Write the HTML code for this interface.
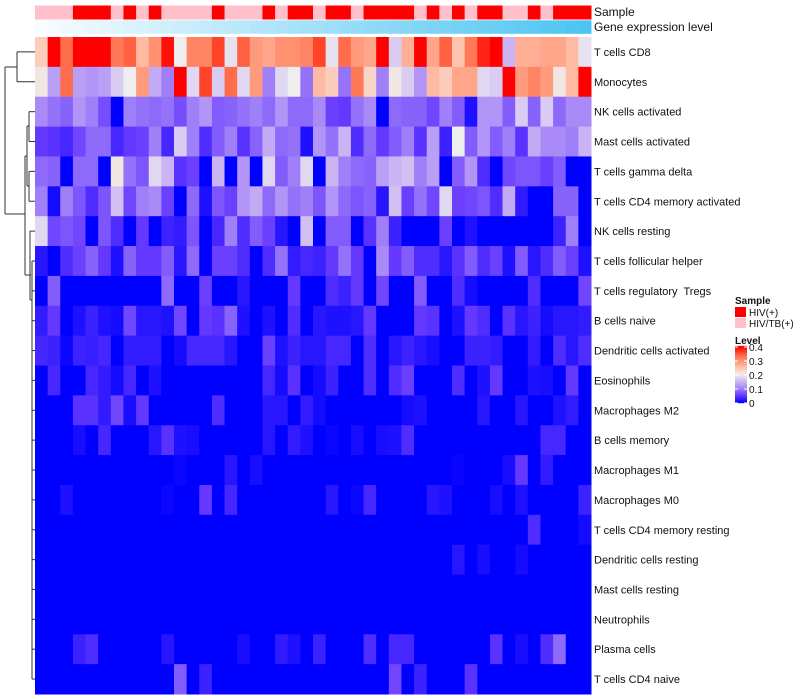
<!DOCTYPE html>
<html><head><meta charset="utf-8"><style>
body{margin:0;background:#fff;}
svg{display:block;font-family:"Liberation Sans",sans-serif;}
#labels text{white-space:pre;}
</style></head><body>
<svg id="chart" width="800" height="700">
<g id="dendro" stroke="#333" stroke-width="1" fill="none"></g>
<g id="cells"></g>
<g id="annot"></g>
<g id="labels" font-size="11" fill="#111" xml:space="preserve"></g>
<text x="594" y="16" font-size="12" fill="#111">Sample</text>
<text x="594" y="31" font-size="12" fill="#111">Gene expression level</text>
<g>
<text x="735" y="304" font-size="10" font-weight="bold" fill="#111">Sample</text>
<rect x="735" y="307" width="11" height="10" fill="#FF0000"/>
<text x="749" y="316" font-size="10" fill="#111">HIV(+)</text>
<rect x="735" y="318" width="11" height="10" fill="#FFC0CB"/>
<text x="749" y="327" font-size="10" fill="#111">HIV/TB(+)</text>
<text x="735" y="344" font-size="10" font-weight="bold" fill="#111">Level</text>
<g id="cbar"></g>
</g>
</svg>
<script>
const rowNames=["T cells CD8","Monocytes","NK cells activated","Mast cells activated","T cells gamma delta","T cells CD4 memory activated","NK cells resting","T cells follicular helper","T cells regulatory  Tregs","B cells naive","Dendritic cells activated","Eosinophils","Macrophages M2","B cells memory","Macrophages M1","Macrophages M0","T cells CD4 memory resting","Dendritic cells resting","Mast cells resting","Neutrophils","Plasma cells","T cells CD4 naive"];
const sampleGroup=[1,1,1,0,0,0,1,0,1,0,1,1,1,1,0,1,1,1,0,1,0,0,1,0,0,1,0,0,0,0,1,0,1,0,1,0,0,1,1,0,1,0,0,0];
const v0=[.24,.4,.33,.4,.4,.4,.32,.34,.26,.3,.39,.2,.31,.31,.36,.19,.34,.29,.28,.3,.3,.31,.36,.19,.33,.29,.28,.4,.17,.27,.4,.28,.34,.25,.32,.38,.4,.15,.27,.27,.28,.28,.26,.19];
const v1=[.21,.13,.33,.13,.12,.13,.17,.2,.29,.14,.1,.4,.18,.36,.17,.33,.18,.29,.1,.18,.2,.09,.26,.24,.09,.32,.23,.1,.21,.17,.12,.26,.24,.28,.28,.18,.17,.4,.29,.31,.29,.21,.26,.4];
const v2=[.11,.09,.08,.12,.1,.065,0,.1,.09,.085,.09,.065,.1,.12,.075,.08,.09,.1,.085,.12,.085,.085,.11,.055,.05,.09,.11,0,.085,.08,.08,.06,.1,.075,.015,.12,.12,.075,.17,.08,.17,.085,.11,.11];
const v3=[.05,.045,.035,.06,.085,.085,.035,.05,.055,.1,.035,.17,.1,.04,.075,.1,.045,.08,.14,.085,.09,.015,.12,.09,.15,.04,.085,.05,.075,.1,.045,.13,.03,.2,.075,.12,.075,.1,.045,.14,.11,.11,.1,.15];
const v4=[.085,.08,0,.085,.085,0,.21,.09,.07,.18,.15,.045,.055,0,.15,0,.12,0,.18,.075,.1,.18,0,.15,.1,.085,.08,.13,.15,.16,.1,.13,0,.075,.12,.04,0,.06,.07,.07,.055,.075,0,0];
const v5=[.1,.01,.1,.07,.04,.07,.16,.06,.1,.11,.055,0,.085,.015,.07,.055,.12,.14,.085,.12,.09,.1,.07,.12,.085,.07,.08,.02,.16,.055,.09,.06,.18,.055,.06,.07,.04,.14,.025,0,0,.08,.08,0];
const v6=[.18,.06,.07,.06,0,.07,.04,0,.05,0,.03,.025,.07,0,.035,.1,.04,.075,.055,.02,0,.16,0,.075,.075,0,.045,.1,.03,0,0,0,.055,0,.015,0,0,0,0,0,0,.03,.1,0];
const v7=[.02,0,.04,.055,.08,.05,.015,.08,.05,.05,.075,.02,.085,0,.055,.055,.04,0,.04,.09,.025,.035,.03,.05,.09,.05,0,.11,.05,.075,.04,.04,.02,.045,.075,.04,.055,.015,.075,.02,.04,.075,.055,.015];
const v8=[0,.075,0,0,0,0,0,0,0,0,.085,0,0,.055,0,0,.02,0,0,0,.05,0,0,.04,.03,.05,0,.06,0,0,.075,0,0,.04,.01,0,0,0,0,.04,0,0,0,.06];
const v9=[.025,.05,0,.015,.03,.015,.01,.06,.02,.02,.015,.06,0,.05,.045,.08,.015,0,.015,0,.04,0,.02,.015,.015,.02,.05,0,0,0,.05,.045,0,.015,.05,.04,0,.045,.02,.03,.01,.02,.02,.025];
const v10=[.035,.03,.005,.03,.028,.035,0,.025,.025,.025,0,.01,.035,.035,.035,.02,0,0,.055,.015,.03,.02,.02,.035,.035,0,.04,0,.02,.03,.02,.012,0,0,.03,.03,.025,0,0,.025,0,.04,.02,.04];
const v11=[0,.035,0,0,.035,.025,.01,.035,0,.015,0,0,0,0,0,0,0,0,.035,.01,.045,0,.01,.03,0,0,.04,0,.04,.055,0,0,0,.04,0,.015,.05,0,0,.015,.012,0,.05,0];
const v12=[0,0,0,.045,.045,.025,.06,.012,.05,0,0,0,0,0,.04,0,0,0,.02,.02,0,.025,.01,0,0,0,0,0,0,.01,.015,0,0,0,0,.02,0,0,.02,0,0,.015,.025,0];
const v13=[0,0,0,.012,0,.035,0,0,0,.02,.045,.015,.012,0,0,0,0,0,.02,0,.025,.015,0,.005,0,.012,0,.012,.015,.04,0,0,0,0,0,0,0,0,0,0,.035,.035,0,0];
const v14=[0,0,0,0,0,0,0,0,0,0,0,.005,0,0,0,.02,0,.012,0,0,0,0,0,0,0,0,0,0,0,0,0,0,0,.004,0,0,0,.012,.05,0,.025,0,0,0];
const v15=[0,0,.015,0,0,0,0,0,0,0,.005,0,0,.05,0,.035,0,0,0,0,0,0,0,.02,0,.005,.035,0,0,0,0,.02,.015,0,0,0,.012,0,.015,0,0,0,0,.03];
const v16=[0,0,0,0,0,0,0,0,0,0,0,0,0,0,0,0,0,0,0,0,0,0,0,0,0,0,0,0,0,0,0,0,0,0,0,0,0,0,0,.04,0,0,0,.01];
const v17=[0,0,0,0,0,0,0,0,0,0,0,0,0,0,0,0,0,0,0,0,0,0,0,0,0,0,0,0,0,0,0,0,0,.02,0,.012,0,0,.01,0,0,0,0,0];
const v18=[0,0,0,0,0,0,0,0,0,0,0,0,0,0,0,0,0,0,0,0,0,0,0,0,0,0,0,0,0,0,0,0,0,0,0,0,0,0,0,0,0,0,0,0];
const v19=[0,0,0,0,0,0,0,0,0,0,0,0,0,0,0,0,0,0,0,0,0,0,0,0,0,0,0,0,0,0,0,0,0,0,0,0,0,0,0,0,0,0,0,0];
const v20=[0,0,0,.03,.04,0,0,0,0,0,.02,0,0,0,0,0,.012,0,0,.025,.015,0,.03,0,0,0,.04,0,.035,.035,0,0,0,0,0,0,.045,0,.012,0,.04,.085,0,0];
const v21=[0,0,0,0,0,0,0,0,0,0,0,.075,0,.03,0,0,0,0,0,0,0,0,0,0,0,0,0,0,.06,0,.03,0,0,0,.045,0,0,0,0,0,0,0,0,0];
const values=[v0,v1,v2,v3,v4,v5,v6,v7,v8,v9,v10,v11,v12,v13,v14,v15,v16,v17,v18,v19,v20,v21];
const levelTicks=[0,0.1,0.2,0.3,0.4];

const NS="http://www.w3.org/2000/svg";
const X0=35,X1=591,Y0=37,Y1=694;
const nC=sampleGroup.length,nR=rowNames.length;
const cw=(X1-X0)/nC,rh=(Y1-Y0)/nR;
const xPos=c=>X0+c*cw, yPos=r=>Y0+r*rh;
const stops=[[0,[0,0,255]],[.05,[100,56,255]],[.1,[160,128,248]],[.15,[204,180,244]],[.2,[238,238,238]],[.25,[255,196,176]],[.3,[255,144,112]],[.35,[255,85,53]],[.4,[255,0,0]]];
function col(v){v=Math.max(0,Math.min(.4,v));for(let i=1;i<stops.length;i++){if(v<=stops[i][0]){const a=stops[i-1],b=stops[i],t=(v-a[0])/(b[0]-a[0]);return "rgb("+a[1].map((x,k)=>Math.round(x+(b[1][k]-x)*t)).join(",")+")";}}return "rgb(255,0,0)";}
function mk(tag,attrs,parent){const e=document.createElementNS(NS,tag);for(const k in attrs)e.setAttribute(k,attrs[k]);parent.appendChild(e);return e;}
const cells=document.getElementById('cells');
values.forEach((row,r)=>row.forEach((v,c)=>{
 const e=mk('rect',{x:xPos(c),y:yPos(r),width:cw+0.5,height:rh+0.5,fill:col(v)},cells);
 
 
}));
const annot=document.getElementById('annot');
sampleGroup.forEach((g,c)=>{
 const e=mk('rect',{x:xPos(c),y:5.5,width:cw+0.5,height:14,fill:g?'#FFC0CB':'#FF0000'},annot);
 
 
 const t=c/(nC-1);
 const rr=Math.round(248+(77-248)*t),gg=Math.round(252+(197-252)*t),bb=Math.round(255+(242-255)*t);
 const e2=mk('rect',{x:xPos(c),y:20.3,width:cw+0.5,height:13.5,fill:`rgb(${rr},${gg},${bb})`},annot);
 
 
});
const labels=document.getElementById('labels');
rowNames.forEach((n,r)=>{
 const e=mk('text',{x:594,y:yPos(r)+rh/2+4},labels);e.textContent=n;
 
 
});
const d=document.getElementById('dendro');
const cy=r=>yPos(r)+rh/2;
const segs=[[17,cy(0),35,cy(0)],[17,cy(1),35,cy(1)],[17,cy(0),17,cy(1)],[5,67,17,67],[5,67,5,214],[5,214,25,214],
[29,cy(2),35,cy(2)],[29,cy(3),35,cy(3)],[29,cy(2),29,cy(3)],[27,126,29,126],
[29,cy(4),35,cy(4)],[29,cy(5),35,cy(5)],[29,cy(4),29,cy(5)],[27,186,29,186],[27,126,27,186],[25,156,27,156],[25,156,25,275],[25,275,31,275],
[30,cy(6),35,cy(6)],[30,cy(6),30,300],[30,300,32,300],[32,cy(7),32,cy(21)]];
for(let r=7;r<22;r++)segs.push([32,cy(r),35,cy(r)]);
segs.forEach(s=>{const e=mk('line',{x1:s[0],y1:s[1],x2:s[2],y2:s[3]},d);
 
 });
const cb=document.getElementById('cbar');
const CB0=403,CB1=347;
const yL=v=>CB0+(CB1-CB0)*v/0.4;
for(let i=0;i<56;i++){const v=0.4*i/55;mk('rect',{x:735,y:yL(v)-1.1,width:12,height:1.3,fill:col(v)},cb);}
levelTicks.forEach(v=>{
 mk('line',{x1:735,x2:738,y1:yL(v),y2:yL(v),stroke:'#fff'},cb);
 mk('line',{x1:744,x2:747,y1:yL(v),y2:yL(v),stroke:'#fff'},cb);
 const t=mk('text',{x:749,y:yL(v)+4,'font-size':10,fill:'#111'},cb);t.textContent=String(v);
 
 
});
</script>
</body></html>
